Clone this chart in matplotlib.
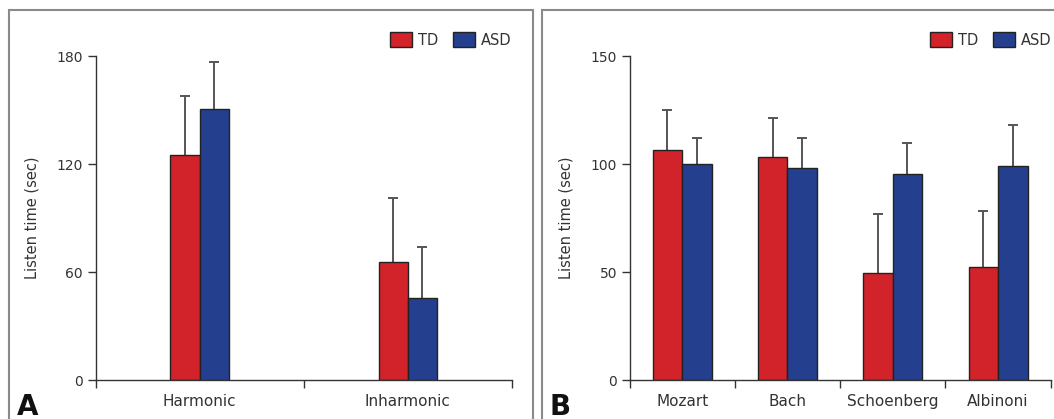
import matplotlib
matplotlib.use("Agg")
import matplotlib.pyplot as plt
from matplotlib.patches import Patch, Rectangle
import numpy as np

plt.rcParams['font.family'] = ['DejaVu Sans']

# Panel A data
cats_a = ["Harmonic", "Inharmonic"]
td_a = [125.4, 65.9]
td_a_err = [32.8, 35.4]
asd_a = [150.9, 45.6]
asd_a_err = [26.0, 28.5]
yticks_a = [0, 60, 120, 180]

# Panel B data
cats_b = ["Mozart", "Bach", "Schoenberg", "Albinoni"]
td_b = [106.7, 103.6, 49.6, 52.5]
td_b_err = [18.4, 17.9, 27.6, 25.8]
asd_b = [100.1, 98.5, 95.5, 99.2]
asd_b_err = [12.2, 13.9, 14.6, 19.1]
yticks_b = [0, 50, 100, 150]

series_names = ["TD", "ASD"]
RED = "#D2232A"
BLUE = "#243F8E"
TXT = "#333333"
ECOL = "#555555"

W, H = 1054, 419
fig = plt.figure(figsize=(W / 100, H / 100), dpi=100)

# panel frames
for (x0, x1) in [(8.5, 533), (541.5, 1060)]:
    fig.patches.append(Rectangle((x0 / W, -0.1), (x1 - x0) / W, 1.1 - 10 / H,
                                 transform=fig.transFigure, fill=False,
                                 edgecolor="#8a8a8a", linewidth=1.5))


def upper_err(ax, xs, vals, errs):
    vals = np.asarray(vals)
    tops = vals + np.asarray(errs)
    ax.vlines(xs, vals, tops, colors=ECOL, linewidth=1.4, zorder=1)
    ax.plot(xs, tops, linestyle="none", marker="_", markersize=7,
            markeredgewidth=1.4, color=ECOL, zorder=1)


def panel(left_px, right_px, cats, td, tde, asd, asde, yticks, width, ylab_x,
          leg_right, letter, letter_x):
    bottom_px, top_px = 380.3, 56.5
    ax = fig.add_axes([left_px / W, (H - bottom_px) / H,
                       (right_px - left_px) / W, (bottom_px - top_px) / H])
    n = len(cats)
    x = np.arange(n) + 0.5
    upper_err(ax, x - width / 2, td, tde)
    upper_err(ax, x + width / 2, asd, asde)
    ax.bar(x - width / 2, td, width, color=RED, edgecolor="#222222",
           linewidth=1.0, zorder=2)
    ax.bar(x + width / 2, asd, width, color=BLUE, edgecolor="#222222",
           linewidth=1.0, zorder=2)
    ax.set_xlim(0, n)
    ax.set_ylim(0, yticks[-1])
    ax.set_yticks(yticks)
    ax.set_xticks(np.arange(n + 1))
    ax.set_xticklabels([])
    ax.set_xticks(x, minor=True)
    ax.set_xticklabels(cats, minor=True)
    ax.tick_params(axis="x", which="major", direction="out", length=5.5,
                   width=1.0, color="#333333")
    ax.tick_params(axis="x", which="minor", length=0, pad=10, labelsize=11,
                   labelcolor=TXT)
    ax.tick_params(axis="y", direction="out", length=6, width=1.0, pad=3,
                   color="#333333", labelsize=10, labelcolor=TXT)
    for s in ["top", "right"]:
        ax.spines[s].set_visible(False)
    for s in ["left", "bottom"]:
        ax.spines[s].set_color("#333333")
        ax.spines[s].set_linewidth(1.0)
    ax.set_facecolor("none")
    fig.text(ylab_x / W, 1 - 218 / H, "Listen time (sec)", rotation=90,
             ha="center", va="center", fontsize=10.5, color=TXT)
    handles = [Patch(facecolor=RED, edgecolor="#222222", linewidth=1.0),
               Patch(facecolor=BLUE, edgecolor="#222222", linewidth=1.0)]
    fig.legend(handles, series_names, loc="center right",
               bbox_to_anchor=(leg_right / W, 1 - 40 / H),
               bbox_transform=fig.transFigure, ncol=2, frameon=False,
               fontsize=10.5, handlelength=1.5, handleheight=1.2,
               handletextpad=0.45, columnspacing=1.0, borderpad=0,
               borderaxespad=0, labelcolor=TXT)
    fig.text(letter_x / W, 1 - 415 / H, letter, fontsize=20, fontweight="bold",
             color="#111111", ha="left", va="baseline")
    return ax


panel(95.5, 512, cats_a, td_a, td_a_err, asd_a, asd_a_err, yticks_a, 0.14, 32,
      512, "A", 17)
panel(629.5, 1050.7, cats_b, td_b, td_b_err, asd_b, asd_b_err, yticks_b, 0.28, 566,
      1052, "B", 549)

fig.savefig("out.png", dpi=100)
